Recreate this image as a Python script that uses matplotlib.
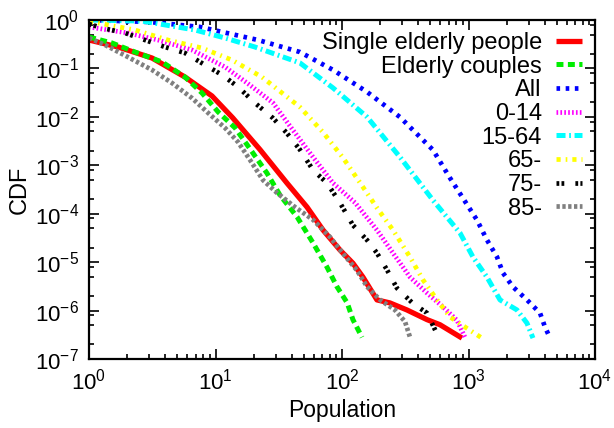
import matplotlib
matplotlib.use("Agg")
import math
import matplotlib.pyplot as plt
from matplotlib.ticker import LogLocator, FuncFormatter, NullFormatter

plt.rcParams['font.family'] = ['Liberation Sans', 'DejaVu Sans']
plt.rcParams['mathtext.fontset'] = 'custom'
plt.rcParams['mathtext.rm'] = 'Liberation Sans'
plt.rcParams['mathtext.default'] = 'regular'
plt.rcParams['lines.scale_dashes'] = False

# ---- data ----
labels = ["Single elderly people", "Elderly couples", "All", "0-14",
          "15-64", "65-", "75-", "85-"]

single_x = [1, 1.70, 3.15, 5.74, 9.38, 13.7, 22.5, 36.7, 52.9, 70.8, 96.4, 122,
            146.5, 189, 239, 326, 470, 595, 889]
single_y = [0.386, 0.277, 0.164, 0.0664, 0.027, 9.5e-3, 2.1e-3, 4.3e-4, 1.37e-4,
            4.6e-5, 1.78e-5, 9.5e-6, 4.9e-6, 1.66e-6, 1.44e-6, 1.03e-6, 6.5e-7,
            5.1e-7, 2.7e-7]

couples_x = [1, 1.52, 2.31, 3.78, 5.74, 7.82, 10.5, 14.3, 18.7, 25.5, 32.4, 44.1,
             59.0, 76.1, 91.3, 110, 122, 144]
couples_y = [0.446, 0.335, 0.218, 0.136, 0.0664, 0.0311, 0.0126, 5.9e-3, 2.2e-3,
             6.9e-4, 2.4e-4, 8.6e-5, 2.5e-5, 7.9e-6, 3.1e-6, 1.44e-6, 6.5e-7, 2.8e-7]

all_x = [1, 3.0, 7.5, 21.7, 46.5, 85, 158, 287, 524, 714, 1167, 1400, 1680, 1874,
         2250, 2900, 3675, 4025, 4410]
all_y = [1.0, 0.91, 0.72, 0.386, 0.218, 0.093, 0.0326, 0.0099, 2.07e-3, 5.47e-4,
         7.4e-5, 2.87e-5, 1.28e-5, 5.97e-6, 3.07e-6, 1.66e-6, 8.9e-7, 4.57e-7, 2.72e-7]

a0_14_x = [1, 2.03, 3.51, 6.52, 11.9, 18.7, 28.5, 41.0, 59.0, 84.9, 127, 189, 253,
           345, 470, 629, 811, 938]
a0_14_y = [0.717, 0.539, 0.386, 0.240, 0.107, 0.0454, 0.0194, 5.3e-3, 1.48e-3,
           4.3e-4, 1.68e-4, 4.6e-5, 1.54e-5, 4.9e-6, 2.3e-6, 1.19e-6, 6.3e-7, 2.8e-7]

a15_64_x = [1, 2.62, 6.89, 11.9, 20.5, 46.5, 85, 158, 287, 524, 857, 1086, 1400,
            1775, 2417, 2900, 3235]
a15_64_y = [1.0, 0.953, 0.622, 0.425, 0.277, 0.130, 0.0395, 0.0099, 1.48e-3,
            1.9e-4, 4.0e-5, 1.27e-5, 4.9e-6, 1.66e-6, 1.03e-6, 5.5e-7, 2.7e-7]

a65_x = [1, 1.18, 2.31, 4.21, 7.82, 13.5, 23.3, 46.5, 70.8, 102, 146, 189, 253, 345,
         437, 564, 714, 973, 1279]
a65_y = [0.93, 0.867, 0.622, 0.386, 0.264, 0.149, 0.0664, 0.0159, 4.8e-3, 1.42e-3,
         3.6e-4, 1.32e-4, 4.6e-5, 1.27e-5, 4.3e-6, 1.66e-6, 7.4e-7, 4.3e-7, 2.7e-7]

a75_x = [1, 1.27, 1.93, 2.77, 3.99, 5.74, 8.26, 11.3, 15.1, 20.5, 28.5, 36.7, 46.5,
         59.0, 76.1, 96.4, 122, 158, 189, 227, 272, 364, 470, 564]
a75_y = [0.827, 0.684, 0.539, 0.386, 0.277, 0.208, 0.118, 0.0733, 0.0414, 0.0194,
         9.4e-3, 4.6e-3, 2.1e-3, 8.0e-4, 4.3e-4, 1.68e-4, 5.8e-5, 2.84e-5, 1.54e-5,
         6.9e-6, 2.9e-6, 1.4e-6, 8.9e-7, 3.3e-7]

a85_x = [1, 1.34, 2.03, 3.15, 4.53, 6.52, 8.73, 11.9, 15.1, 18.7, 23.8, 30.6, 42.5,
         59, 80.4, 102, 131, 158, 200, 262, 315, 345]
a85_y = [0.425, 0.305, 0.172, 0.093, 0.05, 0.0244, 0.0121, 5.9e-3, 3.0e-3, 1.3e-3,
         4.9e-4, 2.7e-4, 1.37e-4, 7.5e-5, 3.3e-5, 1.5e-5, 6.8e-6, 3.1e-6, 1.66e-6,
         1.03e-6, 5.9e-7, 2.8e-7]

xs = [single_x, couples_x, all_x, a0_14_x, a15_64_x, a65_x, a75_x, a85_x]
ys = [single_y, couples_y, all_y, a0_14_y, a15_64_y, a65_y, a75_y, a85_y]

colors = ['#ff0000', '#00ee00', '#0000ff', '#ff00ff', '#00ffff', '#ffff00',
          '#000000', '#808080']
styles = [
    dict(linestyle='-', lw=3.8),
    dict(linestyle=(0, (5.0, 3.2)), lw=3.6),
    dict(linestyle=(0, (2.6, 4.0)), lw=3.4),
    dict(linestyle=(0, (1.2, 1.6)), lw=3.4),
    dict(linestyle=(0, (6.5, 2.6, 1.3, 2.6)), lw=3.6),
    dict(linestyle=(0, (3.0, 3.6, 1.2, 3.6)), lw=3.4),
    dict(linestyle=(0, (2.0, 1.6, 2.0, 8.0)), lw=3.4),
    dict(linestyle=(0, (2.4, 1.8)), lw=3.4),
]

fig = plt.figure(figsize=(6.14, 4.28), dpi=100)
ax = fig.add_axes([89/614, 1 - 359/428, (595 - 89)/614, (359 - 20)/428])

for x, y, lab, c, st in zip(xs, ys, labels, colors, styles):
    ax.plot(x, y, color=c, label=lab, solid_capstyle='butt',
            dash_capstyle='butt', **st)

ax.set_xscale('log')
ax.set_yscale('log')
ax.set_xlim(1, 1e4)
ax.set_ylim(1e-7, 1)

def pow10(v, pos):
    e = int(round(math.log10(v)))
    return r'$10^{%d}$' % e

ax.xaxis.set_major_locator(LogLocator(base=10, numticks=10))
ax.xaxis.set_minor_locator(LogLocator(base=10, subs=range(2, 10), numticks=20))
ax.yaxis.set_major_locator(LogLocator(base=10, numticks=10))
ax.yaxis.set_minor_locator(LogLocator(base=10, subs=(2, 5, 8), numticks=20))
ax.xaxis.set_major_formatter(FuncFormatter(pow10))
ax.yaxis.set_major_formatter(FuncFormatter(pow10))
ax.xaxis.set_minor_formatter(NullFormatter())
ax.yaxis.set_minor_formatter(NullFormatter())

ax.tick_params(which='both', direction='in', top=True, right=True,
               labelsize=16, width=1.2)
ax.tick_params(which='major', length=7, pad=7)
ax.tick_params(which='minor', length=3.6)
for sp in ax.spines.values():
    sp.set_linewidth(1.6)

ax.set_xlabel('Population', fontsize=16.5, labelpad=3)
ax.set_ylabel('CDF', fontsize=17, labelpad=3)

leg = ax.legend(loc='upper right', bbox_to_anchor=(1 - 13/506, 1 - 12/339),
                frameon=False, markerfirst=False, fontsize=17,
                handlelength=1.1, handletextpad=0.6, labelspacing=0.07,
                borderaxespad=0, borderpad=0)
leg._legend_box.align = "right"

fig.savefig('out.png', dpi=100)
